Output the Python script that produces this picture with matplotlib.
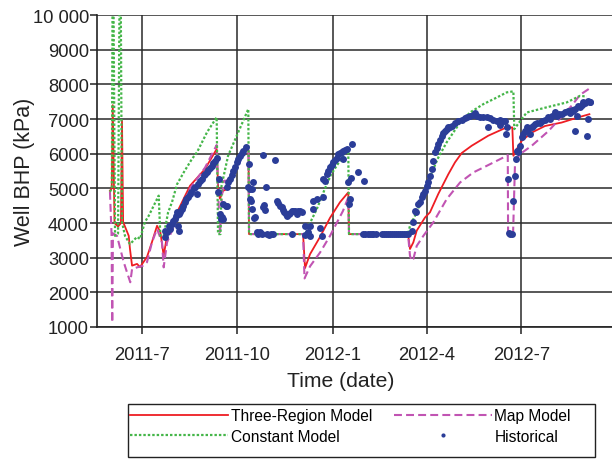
import numpy as np
import pandas as pd
import matplotlib
matplotlib.use("Agg")
import matplotlib.pyplot as plt
import matplotlib.dates as mdates
from matplotlib.ticker import FuncFormatter
from matplotlib.patches import Rectangle

plt.rcParams['font.family'] = ['Liberation Sans', 'DejaVu Sans']

# simulation time is in days from the start of the run
t0 = pd.Timestamp('2011-05-19')

three_day = [12.2, 13.9, 14.9, 16.6, 20.0, 22.8, 23.8, 24.9, 30.3, 31.5, 33.5, 38.3, 41.2,
             47.9, 52.7, 57.6, 60.8, 64.0, 67.2, 74.0, 76.9, 89.4, 103.9, 115.1, 116.7,
             118.3, 121.2, 125.1, 132.8, 142.4, 145.8, 146.3, 198.4, 200.3, 205.1, 214.8,
             224.4, 234.0, 242.0, 242.7, 299.6, 301.5, 304.7, 308.0, 316.0, 320.8, 328.8,
             338.5, 344.9, 351.4, 361.0, 377.0, 393.2, 400.2, 401.2, 403.5, 409.2, 418.9,
             431.7, 447.8, 463.8, 474.5]
three_bhp = [4930, 5000, 7400, 4000, 3900, 4000, 6950, 4030, 3630, 3250, 2770, 2820, 2730,
             3020, 3450, 3920, 3740, 3055, 3630, 4030, 4310, 5075, 5560, 6135, 4900,
             4700, 4930, 4980, 5550, 6085, 6100, 3680, 3680, 2700, 3100, 3600,
             4150, 4600, 4885, 3680, 3680, 3250, 3440, 3780, 4160, 4310, 4840,
             5410, 5750, 6020, 6230, 6520, 6740, 6760, 5940, 6085, 6370, 6610,
             6800, 6900, 7050, 7140]

map_day = [12.2, 13.7, 14.4, 15.1, 19.0, 22.2, 25.5, 28.6, 31.8, 33.5, 38.3, 44.7, 47.9,
           52.7, 57.6, 62.4, 64.0, 67.2, 74.0, 89.4, 103.9, 115.1, 116.8, 118.3, 120.2,
           122.2, 125.1, 132.8, 142.4, 145.8, 146.3, 198.4, 199.8, 205.1, 214.8, 224.4,
           236.9, 242.0, 242.7, 299.6, 301.5, 303.2, 304.7, 308.0, 314.4, 324.0, 336.9,
           349.8, 362.6, 375.5, 391.5, 395.8, 396.1, 400.9, 402.8, 407.6, 418.9, 434.9,
           447.8, 457.8, 465.5, 474.5]
map_bhp = [4900, 3700, 1130, 3700, 3630, 3250, 2870, 2580, 2290, 2670, 2720, 2770, 2870,
           3440, 3830, 3440, 2720, 3440, 3920, 5000, 5600, 6250, 4700, 3680, 4800,
           5220, 5220, 5600, 6150, 6150, 3680, 3680, 2400, 2750, 3150, 3630,
           4350, 4740, 3680, 3680, 3055, 2910, 2960, 3340, 3630, 4020, 4690,
           5170, 5460, 5650, 5890, 5960, 3680, 3680, 5750, 5990, 6230, 6650,
           7070, 7400, 7700, 7880]

const_day = [12.2, 14.0, 14.7, 15.6, 17.1, 20.0, 21.4, 22.6, 23.8, 26.7, 31.5, 38.3, 41.2,
             45.9, 49.6, 54.4, 59.2, 60.8, 64.0, 68.2, 72.0, 76.9, 83.3, 91.3, 96.1,
             105.8, 115.1, 116.4, 118.8, 119.8, 126.1, 145.6, 146.3, 198.4, 200.3, 205.1,
             211.6, 219.6, 225.4, 234.0, 242.0, 242.7, 299.6, 301.5, 308.0, 317.7, 324.0,
             328.8, 336.9, 349.8, 359.4, 372.2, 385.1, 394.8, 401.2, 402.1, 409.2, 414.1,
             433.4, 452.6, 465.5, 471.9]
const_bhp = [4900, 5000, 10500, 10500, 3630, 3700, 10500, 10500, 4030, 3630, 3390, 3600, 3540,
             4030, 4210, 4500, 4790, 3630, 3630, 4300, 4600, 5120, 5460, 5850, 6040,
             6620, 7050, 3680, 3680, 5075, 5940, 7290, 3680, 3680, 3650, 4000,
             4400, 5000, 5400, 5800, 6135, 3680, 3680, 3920, 4310, 5075, 5560,
             5890, 6330, 6900, 7190, 7430, 7620, 7770, 7800, 6710, 7000, 7190,
             7340, 7480, 7670, 7650]

hist_day = [65.3, 65.6, 66.9, 68.9, 70.1, 72.0, 73.0, 74.9, 75.9, 76.9, 78.1, 78.5, 78.8,
            79.7, 81.2, 82.6, 84.6, 86.0, 87.5, 89.4, 90.8, 93.0, 94.2, 95.9, 97.1, 99.0,
            100.7, 102.6, 103.9, 105.5, 107.0, 108.7, 110.3, 111.9, 113.5, 115.1,
            116.7, 117.4, 118.3, 119.3, 120.0, 121.2, 121.5, 123.8, 124.8,
            124.8, 126.0, 128.0, 129.6, 131.1, 132.8, 134.4, 136.0, 137.6, 139.3, 140.8, 143.1,
            145.4, 146.6, 147.3, 147.3, 148.2, 148.9, 149.5, 150.4, 151.4, 152.1, 153.7, 155.0,
            156.9, 158.8, 160.1, 160.1, 160.8, 161.4, 162.4, 163.6, 165.6, 167.5, 169.5, 171.4,
            173.0, 174.5, 176.2, 177.8, 179.1, 180.1, 181.5, 182.6, 184.4, 185.8, 187.5, 187.8,
            189.0, 190.6, 192.3, 193.8, 195.5, 197.1, 200.3, 200.3, 203.5, 205.1, 205.1, 208.3,
            208.3, 211.6, 214.8, 216.4, 217.9, 217.9, 219.6,
            221.2, 222.8, 224.4, 226.1, 227.6, 229.2, 230.9, 232.4, 234.0, 235.7, 236.6, 237.2,
            238.8, 240.5, 242.0, 243.0, 243.7, 244.4, 245.3, 251.7, 257.5,
            256.5, 258.6, 260.6, 262.5, 264.4, 266.3, 268.3, 274.5, 276.5, 278.4, 280.3, 282.3,
            284.2, 286.1, 288.1, 290.0, 291.9, 293.8, 295.8, 297.7, 299.6,
            303.2, 304.4, 306.4, 307.3, 309.5, 311.2, 312.8, 314.4, 316.0, 317.7, 319.2, 320.8,
            322.5, 324.0, 325.7, 327.3, 328.8, 330.5, 332.1, 333.7, 335.3, 336.9, 338.5, 340.1,
            341.7, 344.9, 348.1, 351.4, 354.6, 356.2, 359.4, 362.6, 364.2, 366.2, 369.0, 372.2,
            375.5, 377.1, 378.7, 381.9, 385.1, 388.4, 388.4, 391.2, 393.2, 393.8, 394.8,
            396.3, 397.0, 398.4, 399.6, 401.2, 402.8, 403.5, 404.4, 405.4,
            407.6, 409.2, 410.8, 412.4, 414.1, 415.3, 417.2, 418.7, 420.1, 422.0, 424.0, 426.9,
            428.5, 431.7, 434.9, 436.5, 438.5, 441.4, 443.0, 444.8, 447.8, 451.0, 454.2, 455.8,
            457.7, 458.7, 460.6, 460.6, 462.3, 463.8, 465.5, 466.9, 468.7, 470.3, 471.9, 472.9,
            473.5, 474.7, 475.1]
hist_bhp = [3590, 3780, 3730, 3920, 3830, 3960, 4050, 4110, 4200, 4310, 3920, 3780, 4250,
            4310, 4400, 4480, 4600, 4680, 4760, 4840, 4900, 5000, 5030, 4840, 5120, 5200,
            5270, 5380, 5420, 5460, 5540, 5600, 5650, 5720, 5800, 5870,
            4885, 5270, 4260, 4115, 4160, 4550, 4110, 4480, 4500,
            5030, 5180, 5270, 5390, 5510, 5630, 5750, 5850, 5940, 6010, 6085, 6180,
            5040, 5700, 4980, 4690, 4640, 4400, 4980, 5190, 4140, 4160, 3730, 3680,
            3730, 3680, 5950, 4450, 4520, 4375, 5050, 3680, 3660, 3680, 3670, 5820,
            4640, 4575, 4500, 4450, 4380, 4310, 4250, 4210, 4260, 4290, 3670, 4340,
            4355, 4350, 4260, 4355, 4340, 4310, 3920, 3650, 3730, 3630, 3920, 4400,
            4640, 4690, 3870, 3630, 4740, 5270, 5220,
            5410, 5510, 5610, 5680, 5750, 5820, 5890, 5990, 6010, 6040, 5850, 6085,
            6110, 6135, 5190, 4550, 4690, 5290, 6280, 5460, 5200,
            3680, 3690, 3670, 3680, 3685, 3675, 3680, 3670, 3680, 3690, 3680, 3675,
            3680, 3685, 3670, 3680, 3675, 3680, 3690, 3680, 3680,
            3780, 4020, 4355, 4325, 4545, 4620, 4740, 4830, 4930, 5075, 5170, 5360,
            5560, 5800, 6040, 6160, 6280, 6400, 6520, 6600, 6660, 6710, 6760, 6780,
            6800, 6880, 6950, 6980, 7030, 7050, 7095, 7120, 7165, 7100, 7065, 7070,
            7050, 6760, 7030, 6980, 6950, 6970, 6830, 6950, 6950, 6570, 6760,
            5270, 3700, 3680, 3690, 4640, 5360, 5840, 6085, 6040,
            6230, 6470, 6570, 6660, 6760, 6700, 6570, 6760, 6800, 6860, 6900, 6900,
            6950, 6980, 7050, 7000, 7100, 7190, 7095, 7150, 7140, 7200, 7240, 7180,
            7270, 7240, 7290, 6660, 7095, 7380, 7350, 7420, 7480, 7450, 6520, 7000,
            7530, 7480, 7500]


def to_dates(days):
    return t0 + pd.to_timedelta(np.asarray(days, dtype=float), unit='D')


fig = plt.figure(figsize=(6.12, 4.6), dpi=100)
ax = fig.add_axes([0.159, 0.287, 0.841, 0.678])

red = '#ee1d23'
magenta = '#c154b3'
green = '#45b649'
blue = '#2b3d98'
ink = '#222222'

l1, = ax.plot(to_dates(three_day), three_bhp, color=red, lw=1.3, zorder=3)
l3, = ax.plot(to_dates(map_day), map_bhp, color=magenta, lw=1.5, ls=(0, (3.8, 2)), zorder=3)
l2, = ax.plot(to_dates(const_day), const_bhp, color=green, lw=1.6, ls=(0, (1.1, 0.9)), zorder=4)
l4, = ax.plot(to_dates(hist_day), hist_bhp, ls='none', marker='o', ms=5,
              mfc=blue, mec=blue, mew=0, zorder=5)

ax.set_xlim(to_dates([0])[0], to_dates([496.3])[0])
ax.set_ylim(1000, 10000)
ax.set_yticks(np.arange(1000, 10001, 1000))
ax.yaxis.set_major_formatter(FuncFormatter(
    lambda v, p: '10 000' if v >= 10000 else f'{int(v)}'))

ax.xaxis.set_major_locator(mdates.MonthLocator(bymonth=[1, 4, 7, 10]))
ax.xaxis.set_major_formatter(FuncFormatter(
    lambda v, p: f'{mdates.num2date(v).year}-{mdates.num2date(v).month}'))

ax.grid(True, color='#2a2a2a', lw=1.1)
ax.set_axisbelow(True)
for s in ['top', 'right']:
    ax.spines[s].set_visible(False)
for s in ['left', 'bottom']:
    ax.spines[s].set_color(ink)
    ax.spines[s].set_linewidth(1.2)
ax.tick_params(axis='both', direction='out', length=5, width=1.1, color=ink,
               labelsize=13.2, labelcolor=ink)
ax.tick_params(axis='x', pad=9)
ax.tick_params(axis='y', pad=1)

ax.set_ylabel('Well BHP (kPa)', fontsize=15.5, color=ink)
ax.yaxis.set_label_coords(-0.122, 0.5)
ax.set_xlabel('Time (date)', fontsize=15.2, color=ink)
ax.xaxis.set_label_coords(0.472, -0.14)

leg = fig.legend([l1, l2, l3, l4],
                 ['Three-Region Model', 'Constant Model', 'Map Model', 'Historical'],
                 ncol=2, loc='upper left', bbox_to_anchor=(125 / 612, 1 - 404 / 460),
                 fontsize=11.2, handlelength=6.3, handletextpad=0.15, columnspacing=1.4,
                 borderpad=0.35, labelspacing=0.35, frameon=False,
                 markerscale=0.6, borderaxespad=0)

# box around the legend, a bit wider than the entries
fig.patches.append(Rectangle((128 / 612, 1 - 458 / 460), 467 / 612, 53 / 460,
                             transform=fig.transFigure, fill=False,
                             edgecolor=ink, lw=1.0))

fig.savefig('out.png', dpi=100)
